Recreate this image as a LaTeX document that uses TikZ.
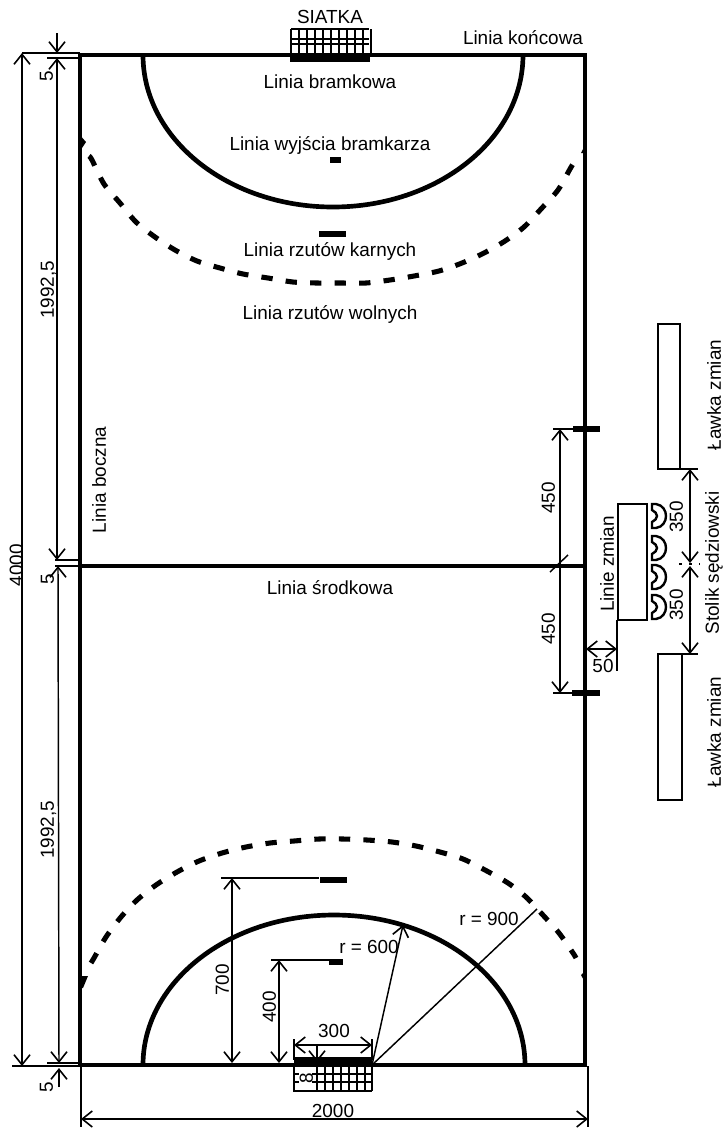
\documentclass[tikz,border=0pt]{standalone}
\usepackage{fontspec}
\setmainfont{Liberation Sans}
\usetikzlibrary{arrows.meta}
\begin{document}
\begin{tikzpicture}[
      x=0.75pt, y=-0.75pt,
      label/.style ={inner sep=0pt, text height=10.2pt, text depth=0pt, font=\fontsize{14.2}{16}\selectfont},
      field/.style ={line width=3.5pt},
      dashline/.style ={line width=3.8pt, dash pattern=on 8.5pt off 9.9pt},
      point/.style ={line width=3.8pt},
      thin line/.style ={line width=1.1pt},
      dim/.style ={line width=1.1pt, {Straight Barb[length=7.5pt,width=12pt,line width=1.2pt]}-{Straight Barb[length=7.5pt,width=12pt,line width=1.2pt]}},
      tip/.style ={line width=1.1pt, -{Straight Barb[length=7.5pt,width=12pt,line width=1.2pt]}},
      box/.style ={draw, line width=1.2pt},
      net/.style ={line width=1.3pt}
    ]
    \useasboundingbox (0,0) rectangle (725,1133);
    % boisko
    \draw [field] (80,55) rectangle (585,1065) ;
    \draw [line width=3pt] (80,566) -- (585,566) ;
    \draw [field] (143,55) arc[start angle=180, end angle=0, x radius=190, y radius=152] ;
    \draw [field] (143,1065) arc[start angle=180, end angle=360, x radius=191, y radius=150] ;
    \draw [dashline] plot [smooth] coordinates {(89,156) (92,160) (104,184) (120,203) (136,222) (155,237) (175,250) (197,261) (220,268) (243,274) (268,278) (293,282) (317,283) (341,283) (366,283) (390,280) (414,276) (439,271) (462,263) (484,253) (505,241) (524,227) (541,209) (558,190) (570,169) (573,164)} ;
    \draw [dashline] plot [smooth] coordinates {(91,963) (94,958) (106,937) (121,917) (137,900) (156,885) (177,872) (199,861) (222,853) (246,847) (270,843) (294,841) (319,839) (343,839) (367,840) (392,842) (416,846) (440,852) (463,859) (485,870) (508,883) (526,897) (542,914) (559,933) (573,953) (576,958)} ;
    \fill (79,134) -- (86,142) -- (82,148) -- (79,148) -- cycle ;
    \fill (586,143) -- (581,153) -- (586,153) -- cycle ;
    \fill (82,976) -- (88,976) -- (83,988) -- (82,988) -- cycle ;
    \fill (586,970) -- (581,975) -- (586,984) -- cycle ;
    % punkty
    \draw [point] (330,160) -- (341,160) ;
    \draw [point] (319,234) -- (346,234) ;
    \draw [point] (320,880) -- (347,880) ;
    \draw [point] (329,962) -- (343,962) ;
    \draw [point] (573,429) -- (600,429) ;
    \draw [point] (572,693) -- (600,693) ;
    % bramka gorna
    \foreach \x in {291,299,...,371} \draw [net] (\x,29) -- (\x,56) ;
    \foreach \y in {29,39,44} \draw [net] (291,\y) -- (369,\y) ;
    \draw [line width=4.5pt] (290,59) -- (370,59) ;
    % bramka dolna
    \foreach \x in {317,325,...,366,372} \draw [net] (\x,1065) -- (\x,1091) ;
    \foreach \y in {1074,1082} \draw [net] (317,\y) -- (372,\y) ;
    \foreach \y in {1074,1082} \draw [net] (294,\y) -- (299,\y) (312,\y) -- (317,\y) ;
    \draw [net] (294,1065) -- (294,1091) -- (372,1091) ;
    \draw [line width=3.8pt] (294,1060) -- (372,1060) ;
    % wymiary po lewej
    \draw [thin line] (22,53) -- (80,53) (47,58) -- (80,58) (55,560) -- (80,560) (55,566) -- (80,566) (12,1066) -- (80,1066) (47,1063) -- (80,1063) ;
    \draw [dim] (22,53) -- (22,1066) ;
    \draw [tip] (57,33) -- (57,53) ;
    \draw [dim] (57,58) -- (57,560) ;
    \draw [dim] (58,566) -- (59,1063) ;
    \draw [tip] (59,1087) -- (59,1068) ;
    % wymiary dolne
    \draw [thin line] (81,1066) -- (81,1127) (588,1066) -- (588,1127) ;
    \draw [dim] (81,1119) -- (588,1119) ;
    \draw [thin line] (221,878) -- (319,878) (271,960) -- (329,960) ;
    \draw [dim] (232,878) -- (232,1063) ;
    \draw [dim] (279,960) -- (279,1063) ;
    \draw [thin line] (294,1039) -- (294,1060) (372,1039) -- (372,1060) ;
    \draw [dim] (294,1045) -- (372,1045) ;
    \draw [tip] (317,1045) -- (317,1062) ;
    \draw [tip] (372,1065) -- (403,925) ;
    \draw [thin line] (372,1065) -- (537,909) ;
    % strefa zmian
    \draw [box] (658,324) rectangle (680,469) ;
    \draw [box] (658,654) rectangle (682,800) ;
    \draw [box] (618,504) rectangle (647,620) ;
    \draw [thin line] (617,620) -- (617,671) ;
    \draw [thin line] (680,469) -- (698,469) (682,654) -- (698,654) ;
    \draw [thin line] (553,429) -- (573,429) (553,693) -- (572,693) ;
    \draw [dim] (560,429) -- (560,693) ;
    \draw [thin line] (550,572) -- (568,555) ;
    \draw [dim] (586,649) -- (617,649) ;
    \draw [dim] (690,469) -- (690,563) ;
    \draw [dim] (690,566) -- (690,654) ;
    \draw [thin line, dash pattern=on 2pt off 5.5pt] (679,564) -- (700,564) ;
    % krzesla
    \foreach \y in {516,548,577,607}
      \draw [line width=1.8pt] (652,\y-12) -- (656,\y-12) .. controls (663,\y-11) and (666,\y-5) .. (666,\y) .. controls (666,\y+5) and (663,\y+11) .. (656,\y+12) -- (652,\y+12) -- (652,\y+6) .. controls (655,\y+5) and (657,\y+2) .. (657,\y) .. controls (657,\y-2) and (655,\y-5) .. (652,\y-6) -- cycle ;
    % opisy
    \node [label] (siatka) at (330,17) {SIATKA} ;
    \node [label] (koncowa) at (523,38) {Linia końcowa} ;
    \node [label] (bramkowa) at (330,82) {Linia bramkowa} ;
    \node [label] (wyjscie) at (330,144) {Linia wyjścia bramkarza} ;
    \node [label] (karne) at (330,250) {Linia rzutów karnych} ;
    \node [label] (wolne) at (330,313) {Linia rzutów wolnych} ;
    \node [label] (srodkowa) at (330,588) {Linia środkowa} ;
    \node [label, rotate=90] (boczna) at (99,480) {Linia boczna} ;
    \node [label, rotate=90] (d4000) at (16,565) {4000} ;
    \node [label, rotate=90] (gora5) at (46,76) {5} ;
    \node [label, rotate=90] (srodek5) at (47,579) {5} ;
    \node [label, rotate=90] (dol5) at (46,1087) {5} ;
    \node [label, rotate=90] (gora1992) at (47,290) {1992,5} ;
    \node [label, rotate=90] (dol1992) at (47,830) {1992,5} ;
    \node [label] (d2000) at (333,1111) {2000} ;
    \node [label, rotate=90] (d700) at (222,980) {700} ;
    \node [label, rotate=90] (d400) at (269,1007) {400} ;
    \node [label] (d300) at (334,1031) {300} ;
    \node [label, rotate=90] (d8) at (306,1078) {8} ;
    \node [label] (r600) at (369,947) {r = 600} ;
    \node [label] (r900) at (489,919) {r = 900} ;
    \node [label, rotate=90] (gora450) at (548,498) {450} ;
    \node [label, rotate=90] (dol450) at (548,629) {450} ;
    \node [label] (d50) at (603,666) {50} ;
    \node [label, rotate=90] (zmiany) at (607,564) {Linie zmian} ;
    \node [label, rotate=90] (gora350) at (676,517) {350} ;
    \node [label, rotate=90] (dol350) at (676,605) {350} ;
    \node [label, rotate=90] (stolik) at (712,563) {Stolik sędziowski} ;
    \node [label, rotate=90] (gora lawka) at (714,395) {Ławka zmian} ;
    \node [label, rotate=90] (dol lawka) at (714,732) {Ławka zmian} ;
  \end{tikzpicture}
\end{document}
